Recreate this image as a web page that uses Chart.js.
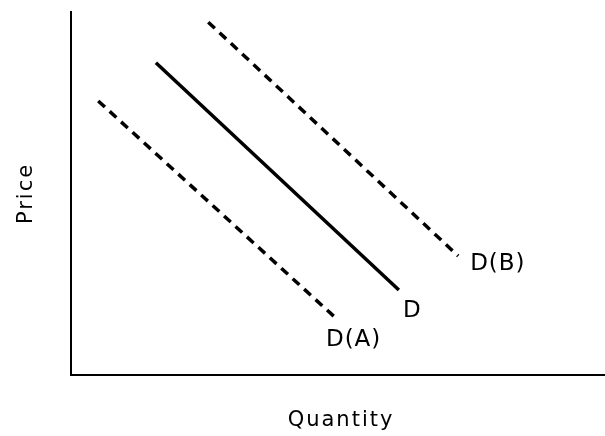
<!DOCTYPE html>
<html>
<head>
<meta charset="utf-8">
<script src="https://cdn.jsdelivr.net/npm/chart.js@4/dist/chart.umd.min.js"></script>
<style>
html,body{margin:0;padding:0;background:#fff;}
#wrap{width:605px;height:436px;position:relative;}
</style>
</head>
<body>
<div id="wrap"><canvas id="c" width="605" height="436"></canvas></div>
<script>
// Data (arbitrary units, 0-100 on each axis)
const seriesNames = ["D(A)", "D", "D(B)"];
const dA = [{x: 5.1, y: 75.5}, {x: 49.8, y: 15.4}];
const dMain = [{x: 15.9, y: 86.0}, {x: 61.4, y: 23.4}];
const dB = [{x: 25.7, y: 97.2}, {x: 72.5, y: 32.8}];
const xTitle = "Quantity";
const yTitle = "Price";

const FONT = '"DejaVu Sans", Verdana, sans-serif';

const labelOffsets = [[-11, 27], [4, 27], [12, 14]];

const labelPlugin = {
  id: 'labels',
  afterDraw(chart) {
    const ctx = chart.ctx;
    const xs = chart.scales.x, ys = chart.scales.y;
    ctx.save();
    ctx.fillStyle = '#000';
    ctx.letterSpacing = '1px';
    ctx.font = '23px ' + FONT;
    ctx.textAlign = 'left';
    ctx.textBaseline = 'alphabetic';
    chart.data.datasets.forEach((ds, i) => {
      const last = ds.data[ds.data.length - 1];
      const px = xs.getPixelForValue(last.x) + labelOffsets[i][0];
      const py = ys.getPixelForValue(last.y) + labelOffsets[i][1];
      ctx.fillText(ds.label, px, py);
    });
    // axis titles
    const ca = chart.chartArea;
    ctx.font = '21px ' + FONT;
    ctx.letterSpacing = '2px';
    ctx.textAlign = 'center';
    ctx.fillText(xTitle, (ca.left + ca.right) / 2 + 3, ca.bottom + 51);
    ctx.save();
    ctx.translate(ca.left - 39, (ca.top + ca.bottom) / 2);
    ctx.rotate(-Math.PI / 2);
    ctx.fillText(yTitle, 0, 0);
    ctx.restore();
    ctx.restore();
  }
};

const common = {borderColor: '#000', pointRadius: 0, fill: false, tension: 0, borderCapStyle: 'butt'};

new Chart(document.getElementById('c'), {
  type: 'line',
  data: {
    datasets: [
      Object.assign({label: seriesNames[0], data: dA, borderWidth: 3.5, borderDash: [9, 6.5]}, common),
      Object.assign({label: seriesNames[1], data: dMain, borderWidth: 3.5}, common),
      Object.assign({label: seriesNames[2], data: dB, borderWidth: 3.5, borderDash: [9, 6.5]}, common)
    ]
  },
  options: {
    responsive: false,
    animation: false,
    devicePixelRatio: 1,
    layout: {padding: {left: 71, top: 12, right: 0, bottom: 61}},
    plugins: {legend: {display: false}, tooltip: {enabled: false}},
    scales: {
      x: {
        type: 'linear', min: 0, max: 100,
        ticks: {display: false},
        grid: {display: false, drawTicks: false},
        border: {display: true, color: '#000', width: 2}
      },
      y: {
        type: 'linear', min: 0, max: 100,
        ticks: {display: false},
        grid: {display: false, drawTicks: false},
        border: {display: true, color: '#000', width: 2}
      }
    }
  },
  plugins: [labelPlugin]
});
</script>
</body>
</html>
